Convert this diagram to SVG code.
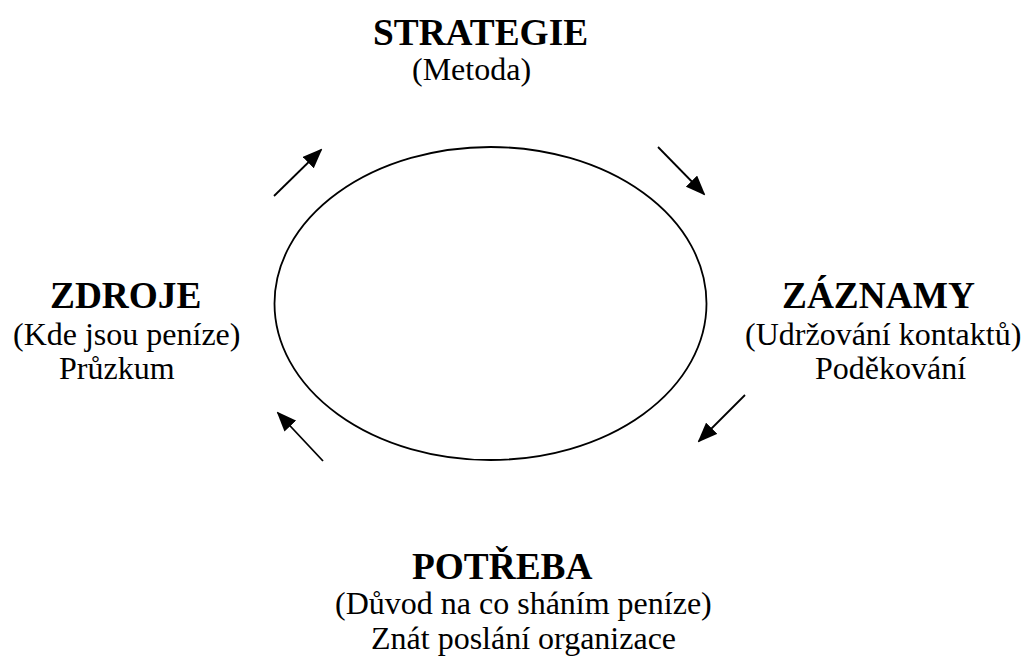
<svg xmlns="http://www.w3.org/2000/svg" width="1029" height="659" viewBox="0 0 1029 659">
<style>
.h{font-weight:bold;font-size:37.33px;fill:#000}
.t{font-size:32px;fill:#000}
.c{stroke:#000;stroke-width:1.8;fill:none}
</style>
<defs>
<marker id="ah" markerUnits="userSpaceOnUse" viewBox="0 0 20 16" markerWidth="20" markerHeight="16" refX="18" refY="8" orient="auto">
<path d="M0,0 L20,8 L0,16 z" fill="#000"/>
</marker>
</defs>
<rect width="1029" height="659" fill="#fff"/>
<g id="cycle">
<ellipse class="c" cx="490.5" cy="303.5" rx="216" ry="156.5"/>
</g>
<g id="connectors">
<line class="c" x1="274" y1="196" x2="321" y2="150" marker-end="url(#ah)"/>
<line class="c" x1="658" y1="147" x2="704" y2="194" marker-end="url(#ah)"/>
<line class="c" x1="745" y1="395" x2="699" y2="441" marker-end="url(#ah)"/>
<line class="c" x1="323" y1="461" x2="278" y2="413" marker-end="url(#ah)"/>
</g>
<g font-family="Liberation Serif, Tinos, Times New Roman, DejaVu Serif, serif">
<g id="strategie">
<text class="h" x="373" y="45">STRATEGIE</text>
<text class="t" x="412" y="80">(Metoda)</text>
</g>
<g id="zdroje">
<text class="h" x="50" y="308">ZDROJE</text>
<text class="t" x="13" y="345">(Kde jsou peníze)</text>
<text class="t" x="59" y="379">Průzkum</text>
</g>
<g id="zaznamy">
<text class="h" x="782" y="308">ZÁZNAMY</text>
<text class="t" x="745" y="345">(Udržování kontaktů)</text>
<text class="t" x="815" y="379">Poděkování</text>
</g>
<g id="potreba">
<text class="h" x="412" y="579">POTŘEBA</text>
<text class="t" x="335" y="614">(Důvod na co sháním peníze)</text>
<text class="t" x="371" y="649">Znát poslání organizace</text>
</g>
</g>
</svg>
